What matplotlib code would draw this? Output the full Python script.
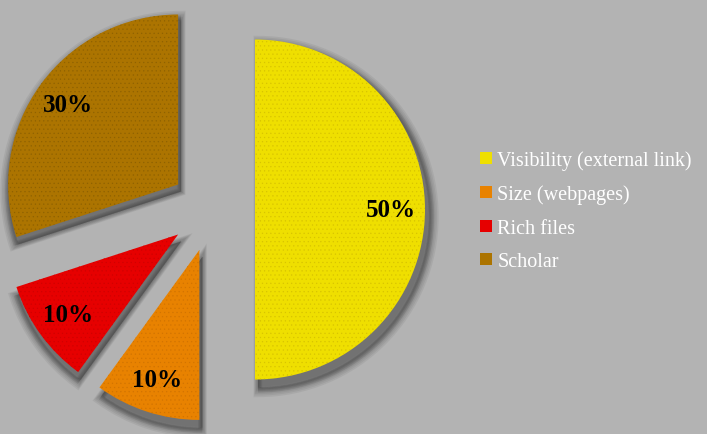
import matplotlib.pyplot as plt
from matplotlib.patches import Wedge
from matplotlib.lines import Line2D

labels = ["Visibility (external link)", "Size (webpages)", "Rich files", "Scholar"]
shares = [50, 10, 10, 30]
colors = ["#efdf00", "#e88200", "#e60000", "#ac7400"]
texture = ["#d8c400", "#d27400", "#d00000", "#8f6200"]

bg = "#b3b3b3"
plt.rcParams['hatch.linewidth'] = 0.4

fig = plt.figure(figsize=(7.07, 4.35), dpi=100, facecolor=bg)
ax = fig.add_axes([0, 0, 1, 1])
ax.set_facecolor(bg)

# explode is in data units here (pixels), radius 170
wedges, texts, autotexts = ax.pie(
    shares, colors=colors, startangle=90, counterclock=False,
    explode=[42.5] * 4, radius=170, center=(212.5, 224.5),
    autopct='%d%%', pctdistance=0.8,
    wedgeprops=dict(linewidth=0),
    textprops=dict(family='Liberation Serif', fontsize=18, fontweight='bold', color='black'))

# fabric-like texture and soft drop shadow under each slice
for w, tc in zip(wedges, texture):
    w.set_zorder(3)
    w.set_hatch('....')
    w.set_edgecolor(tc)
    cx, cy = w.center
    for k in range(8):
        grow = k * 0.9
        s = Wedge((cx + 3, cy - 7), w.r + grow, w.theta1, w.theta2,
                  facecolor='#333333', edgecolor='#333333', linewidth=grow,
                  alpha=0.08, zorder=1)
        ax.add_patch(s)
for t in autotexts:
    t.set_zorder(5)

ax.set_xlim(0, 707)
ax.set_ylim(0, 435)
ax.set_aspect('equal')
ax.axis('off')

handles = [Line2D([], [], marker='s', linestyle='none', markersize=8,
                  markerfacecolor=c, markeredgewidth=0) for c in colors]
leg = ax.legend(handles, labels, loc='center left', bbox_to_anchor=(458 / 707, 0.513),
                frameon=False, handletextpad=0.05, labelspacing=0.72, handlelength=1.0,
                prop=dict(family='Liberation Serif', size=14.5), labelcolor='white')

fig.savefig('out.png', dpi=100, facecolor=bg)
